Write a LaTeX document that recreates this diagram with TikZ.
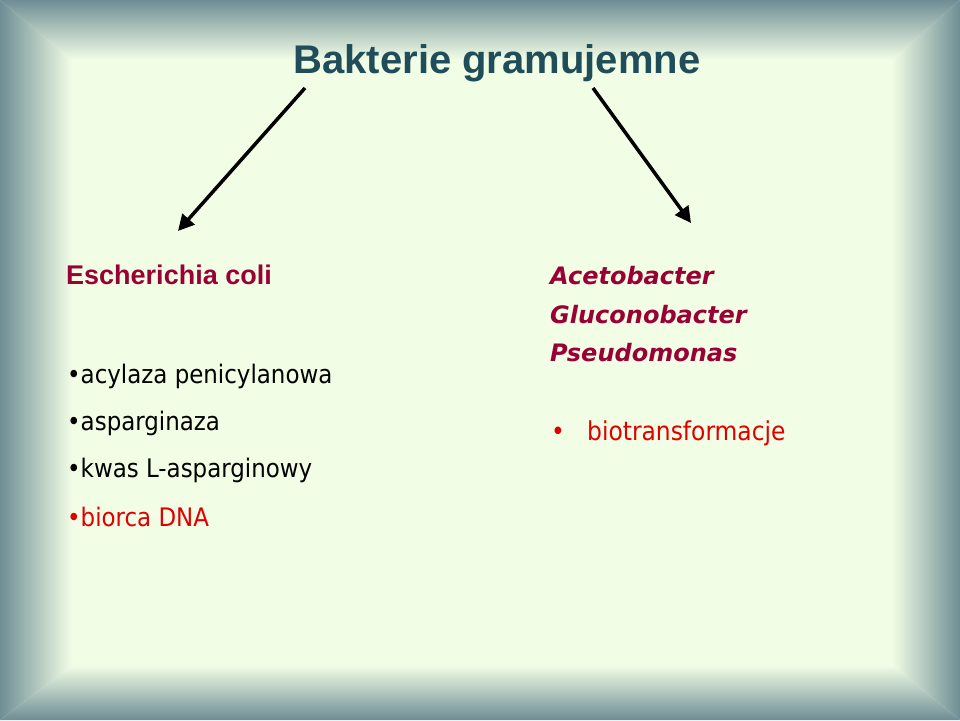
\documentclass[tikz,border=0pt]{standalone}
\usepackage{fontspec}
\setmainfont{DejaVu Sans Condensed}
\newfontfamily\arialb{Liberation Sans}
\newfontfamily\verd{DejaVu Sans}
\usetikzlibrary{arrows.meta}
\definecolor{bg}{HTML}{F2FDE6}
\definecolor{fr}{HTML}{6E8E94}
\definecolor{ttl}{HTML}{1F4E5A}
\definecolor{dred}{HTML}{990033}
\definecolor{bred}{HTML}{E00000}
\tikzset{x=1pt,y=-1pt,
 bul/.style={anchor=base west,font=\fontsize{25.5}{30}\selectfont,inner sep=0},
 arr/.style={line width=3.5pt,-{Triangle[length=16pt,width=16pt]}},
 ital/.style={anchor=base west,font=\verd\bfseries\itshape\fontsize{24}{28}\selectfont,text=dred,inner sep=0}}
\begin{document}
\begin{tikzpicture}
\useasboundingbox (0,0) rectangle (960,720);
\fill[bg] (0,0) rectangle (960,720);
\begin{scope}\clip (0,0)--(960,0)--(892,60)--(72,60)--cycle;
\shade[top color=fr,bottom color=bg] (0,0) rectangle (960,60);\end{scope}
\begin{scope}\clip (0,0)--(72,60)--(72,665)--(0,720)--cycle;
\shade[left color=fr,right color=bg] (0,0) rectangle (72,720);\end{scope}
\begin{scope}\clip (0,720)--(72,665)--(892,665)--(960,720)--cycle;
\shade[top color=bg,bottom color=fr] (0,665) rectangle (960,720);\end{scope}
\begin{scope}\clip (960,0)--(892,60)--(892,665)--(960,720)--cycle;
\shade[left color=bg,right color=fr] (892,0) rectangle (960,720);\end{scope}
\node[font=\arialb\bfseries\fontsize{40}{46}\selectfont,text=ttl] (t) at (497,63) {Bakterie gramujemne};
\coordinate (a1) at (305,88); \coordinate (a2) at (178,231);
\coordinate (b1) at (593,88); \coordinate (b2) at (691,223);
\draw[arr] (a1)--(a2);
\draw[arr] (b1)--(b2);
\node[anchor=base west,font=\arialb\bfseries\fontsize{27}{32}\selectfont,text=dred,inner sep=0] (ec) at (66,284) {Escherichia coli};
\node[bul] (l1) at (67,383) {•acylaza penicylanowa};
\node[bul] (l2) at (67,430) {•asparginaza};
\node[bul] (l3) at (67,477) {•kwas L-asparginowy};
\node[bul,text=bred] (l4) at (67,526) {•biorca DNA};
\node[ital] (r1) at (550,284) {Acetobacter};
\node[ital] (r2) at (550,323) {Gluconobacter};
\node[ital] (r3) at (550,361) {Pseudomonas};
\node[bul,text=bred,font=\fontsize{26}{30}\selectfont] (r4) at (551,440) {•};
\node[bul,text=bred,font=\fontsize{26}{30}\selectfont] (r5) at (587,440) {biotransformacje};
\end{tikzpicture}
\end{document}
